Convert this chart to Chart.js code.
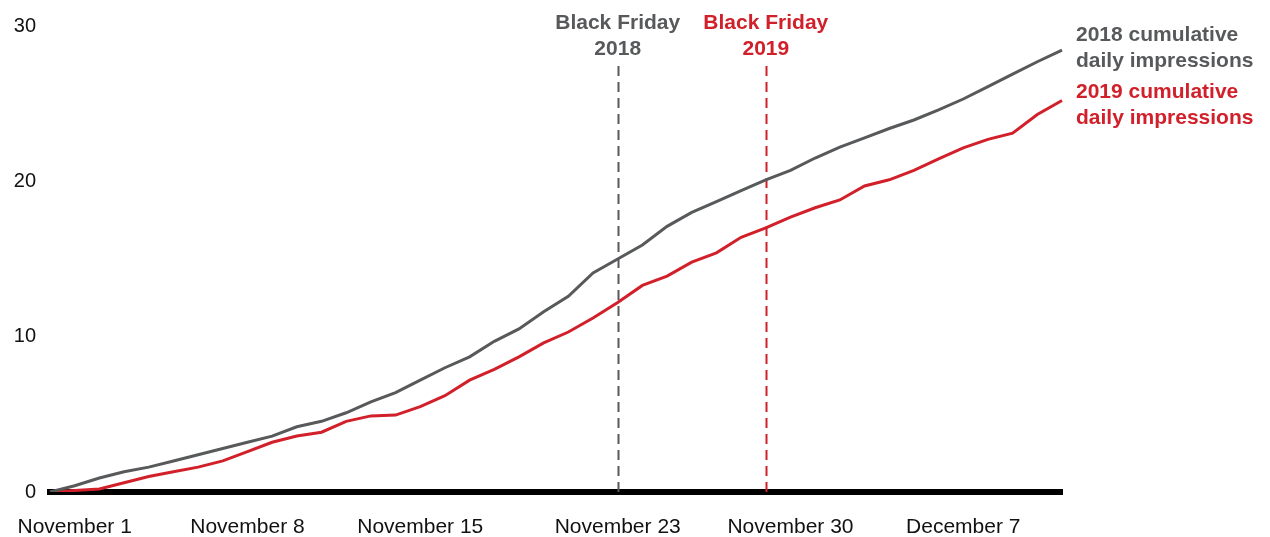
<!DOCTYPE html>
<html>
<head>
<meta charset="utf-8">
<script src="https://cdn.jsdelivr.net/npm/chart.js@4.4.1/dist/chart.umd.min.js"></script>
<style>
  html, body { margin: 0; padding: 0; background: #fff; }
  #wrap { width: 1270px; height: 537px; }
</style>
</head>
<body>
<div id="wrap"><canvas id="chart" width="1270" height="537"></canvas></div>
<script>
// daily categories, Oct 31 -> Dec 11
const monthNames = ['October', 'November', 'December'];
const monthLengths = [31, 30, 31];
const categories = [];
(function () {
  let m = 0, d = 31;
  for (let i = 0; i < 42; i++) {
    categories.push(monthNames[m] + ' ' + d);
    d++;
    if (d > monthLengths[m]) { m++; d = 1; }
  }
})();

// x tick labels to show
const tickLabels = ['November 1', 'November 8', 'November 15', 'November 23', 'November 30', 'December 7'];

// cumulative daily impressions
const impressions2018 = [0, 0.4, 0.9, 1.3, 1.6, 2.0, 2.4, 2.8, 3.2, 3.6,
  4.2, 4.55, 5.1, 5.8, 6.4, 7.2, 8.0, 8.7, 9.7, 10.5,
  11.6, 12.6, 14.1, 15.0, 15.9, 17.1, 18.0, 18.7, 19.4, 20.1,
  20.7, 21.5, 22.2, 22.8, 23.4, 23.95, 24.6, 25.3, 26.1, 26.9,
  27.7, 28.45];
const impressions2019 = [0, 0.1, 0.2, 0.6, 1.0, 1.3, 1.6, 2.0, 2.6, 3.2,
  3.6, 3.85, 4.55, 4.9, 4.95, 5.5, 6.2, 7.2, 7.9, 8.7,
  9.6, 10.3, 11.2, 12.2, 13.3, 13.9, 14.8, 15.4, 16.4, 17.0,
  17.7, 18.3, 18.8, 19.7, 20.1, 20.7, 21.45, 22.15, 22.7, 23.1,
  24.3, 25.2];

const seriesNames = [['2018 cumulative', 'daily impressions'], ['2019 cumulative', 'daily impressions']];
const blackFridayDates = ['November 23', 'November 29'];
const blackFridayText = [['Black Friday', '2018'], ['Black Friday', '2019']];

const GRAY = '#58595b';
const RED = '#d2202a';
const FONT = "'Liberation Sans', Arial, Helvetica, sans-serif";
const colors = [GRAY, RED];

// dashed Black Friday markers + direct labels
const annotatePlugin = {
  id: 'annotate',
  beforeDatasetsDraw(chart) {
    const ctx = chart.ctx;
    const x = chart.scales.x;
    const bottom = chart.chartArea.bottom;
    ctx.save();
    ctx.lineWidth = 2;
    ctx.setLineDash([10, 6]);
    blackFridayDates.forEach((d, i) => {
      const px = Math.round(x.getPixelForValue(categories.indexOf(d))) + 0.5;
      ctx.strokeStyle = colors[i];
      ctx.beginPath();
      ctx.moveTo(px, 66);
      ctx.lineTo(px, bottom);
      ctx.stroke();
    });
    ctx.restore();
  },
  afterDatasetsDraw(chart) {
    const ctx = chart.ctx;
    const x = chart.scales.x;
    ctx.save();
    ctx.font = 'bold 21px ' + FONT;
    ctx.textBaseline = 'middle';
    ctx.textAlign = 'center';
    blackFridayDates.forEach((d, i) => {
      const px = x.getPixelForValue(categories.indexOf(d));
      ctx.fillStyle = colors[i];
      ctx.fillText(blackFridayText[i][0], px, 23);
      ctx.fillText(blackFridayText[i][1], px, 49);
    });
    ctx.textAlign = 'left';
    chart.data.datasets.forEach((ds, i) => {
      const meta = chart.getDatasetMeta(i);
      const last = meta.data[meta.data.length - 1];
      ctx.fillStyle = colors[i];
      const off = i === 0 ? -2 : 5;
      ctx.fillText(seriesNames[i][0], last.x + 14, last.y + off - 13);
      ctx.fillText(seriesNames[i][1], last.x + 14, last.y + off + 13);
    });
    ctx.restore();
  }
};

new Chart(document.getElementById('chart'), {
  type: 'line',
  data: {
    labels: categories,
    datasets: [
      { label: '2018', data: impressions2018, borderColor: GRAY, borderWidth: 3, pointRadius: 0, tension: 0 },
      { label: '2019', data: impressions2019, borderColor: RED, borderWidth: 3, pointRadius: 0, tension: 0 }
    ]
  },
  options: {
    responsive: false,
    animation: false,
    layout: { padding: { top: 25, right: 208, left: 0, bottom: 0 } },
    plugins: { legend: { display: false }, tooltip: { enabled: false } },
    scales: {
      x: {
        offset: false,
        grid: { display: false, drawTicks: false },
        border: { display: true, color: '#000', width: 6 },
        afterFit(s) { s.height = 45; },
        ticks: {
          autoSkip: false,
          maxRotation: 0,
          padding: 23,
          color: '#111',
          font: { family: FONT, size: 21 },
          callback(v) {
            const c = categories[v];
            return tickLabels.includes(c) ? c : '';
          }
        }
      },
      y: {
        min: 0,
        max: 30,
        grid: { display: false, drawTicks: false },
        border: { display: false },
        afterFit(s) { s.width = 50; },
        ticks: {
          stepSize: 10,
          padding: 14,
          color: '#111',
          font: { family: FONT, size: 20 }
        }
      }
    }
  },
  plugins: [annotatePlugin]
});
</script>
</body>
</html>
